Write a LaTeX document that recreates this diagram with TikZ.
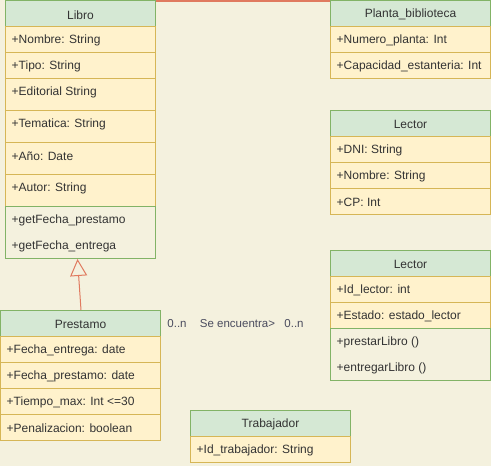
\documentclass[tikz,border=0pt]{standalone}
\usepackage{fontspec}
\setmainfont{Liberation Sans}
\usetikzlibrary{arrows.meta}
\definecolor{bgc}{HTML}{F4F1DE}
\definecolor{hdrfill}{HTML}{D5E8D4}
\definecolor{hdrline}{HTML}{82B366}
\definecolor{rowfill}{HTML}{FFF2CC}
\definecolor{rowline}{HTML}{D6B656}
\definecolor{assoc}{HTML}{E07A5F}
\definecolor{txt}{HTML}{333333}
\definecolor{lbl}{HTML}{4A4C5E}
\tikzset{
  hdr/.style={draw=hdrline, fill=hdrfill, anchor=north west, inner sep=0pt, minimum height=26pt, line width=1pt},
  hdrtxt/.style={anchor=center, inner sep=0pt, text=txt, font=\fontsize{12}{14}\selectfont},
  rowbox/.style={draw=rowline, fill=rowfill, line width=1pt},
  methbox/.style={draw=hdrline, fill=bgc, anchor=north west, inner sep=0pt, line width=1pt},
  rowtxt/.style={anchor=west, inner sep=0pt, text=txt, font=\fontsize{12}{14}\selectfont},
  lbltxt/.style={anchor=center, inner sep=0pt, text=lbl, font=\fontsize{11.5}{13}\selectfont},
  inh/.style={draw=assoc, line width=1pt, -{Triangle[open, length=17pt, width=17pt, fill=bgc]}},
  assocline/.style={draw=assoc, line width=1.5pt}
}
\newcommand\umlrow[6]{%
  \draw[rowbox] (#1,#2) rectangle ++(#3,#4);
  \node[rowtxt] (#5) at (#1+6.5,#2+14.5) {#6};}
\newcommand\umlhdr[5]{%
  \node[hdr, minimum width=#4pt] (#1) at (#2,#3) {};
  \node[hdrtxt] (#1t) at ([yshift=-1.3pt]#1.center) {#5};}
\begin{document}
\begin{tikzpicture}[x=1pt,y=-1pt]
\path[fill=bgc, use as bounding box] (0,0) rectangle (491,466);

% Libro
\umlhdr{libro}{5}{0}{150}{Libro}
\umlrow{5}{26}{150}{26}{libroA}{+Nombre: String}
\umlrow{5}{52}{150}{26}{libroB}{+Tipo: String}
\umlrow{5}{78}{150}{32}{libroC}{+Editorial String}
\umlrow{5}{110}{150}{32}{libroD}{+Tematica: String}
\umlrow{5}{142}{150}{32}{libroE}{+Año: Date}
\umlrow{5}{174}{150}{32}{libroF}{+Autor: String}
\node[methbox, minimum width=150pt, minimum height=52pt] (libroM) at (5,206) {};
\node[rowtxt] (libroM1) at (11.5,220.5) {+getFecha\_prestamo};
\node[rowtxt] (libroM2) at (11.5,246.5) {+getFecha\_entrega};

% Planta_biblioteca
\umlhdr{planta}{330}{0}{160}{Planta\_biblioteca}
\umlrow{330}{26}{160}{26}{plantaA}{+Numero\_planta: Int}
\umlrow{330}{52}{160}{26}{plantaB}{+Capacidad\_estanteria: Int}

% Lector 1
\umlhdr{lector}{330}{110}{160}{Lector}
\umlrow{330}{136}{160}{26}{lectorA}{+DNI: String}
\umlrow{330}{162}{160}{26}{lectorB}{+Nombre: String}
\umlrow{330}{188}{160}{26}{lectorC}{+CP: Int}

% Lector 2
\umlhdr{lectorb}{330}{250}{160}{Lector}
\umlrow{330}{276}{160}{26}{lectorbA}{+Id\_lector: int}
\umlrow{330}{302}{160}{26}{lectorbB}{+Estado: estado\_lector}
\node[methbox, minimum width=160pt, minimum height=52pt] (lectorbM) at (330,328) {};
\node[rowtxt] (lectorbM1) at (336.5,342.5) {+prestarLibro ()};
\node[rowtxt] (lectorbM2) at (336.5,368.5) {+entregarLibro ()};

% Prestamo
\umlhdr{prestamo}{0}{310}{160}{Prestamo}
\umlrow{0}{336}{160}{26}{prestamoA}{+Fecha\_entrega: date}
\umlrow{0}{362}{160}{26}{prestamoB}{+Fecha\_prestamo: date}
\umlrow{0}{388}{160}{26}{prestamoC}{+Tiempo\_max: Int <=30}
\umlrow{0}{414}{160}{26}{prestamoD}{+Penalizacion: boolean}

% Trabajador
\umlhdr{trabajador}{190}{410}{160}{Trabajador}
\umlrow{190}{436}{160}{26}{trabajadorA}{+Id\_trabajador: String}

% connectors
\draw[assocline] ([yshift=-1pt]libro.north east) -- ([yshift=-1pt]planta.north west);
\draw[inh] ([xshift=0.5pt]prestamo.north) -- ([xshift=-3pt]libroM.south);

% labels
\node[lbltxt] (m1) at (177,324) {0..n};
\node[lbltxt] (se) at (237.5,324) {Se encuentra>};
\node[lbltxt] (m2) at (294,324) {0..n};
\end{tikzpicture}
\end{document}
